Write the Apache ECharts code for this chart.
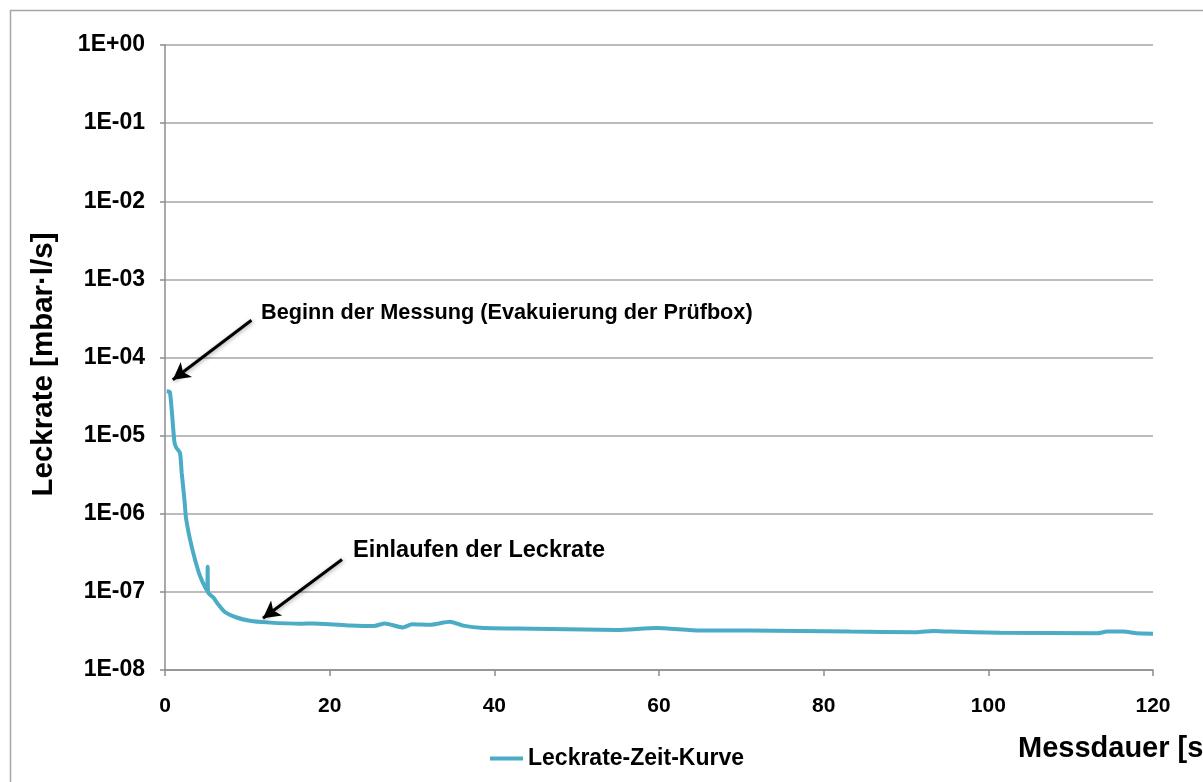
<!DOCTYPE html>
<html>
<head>
<meta charset="utf-8">
<title>Leckrate-Zeit-Kurve</title>
<script src="https://cdn.jsdelivr.net/npm/echarts@6/dist/echarts.min.js"></script>
<style>
  html, body { margin: 0; padding: 0; background: #fff; }
  #chart { width: 1203px; height: 782px; }
</style>
</head>
<body>
<div id="chart"></div>
<script>
// Messzeit in Sekunden
const times = [0.2, 0.6, 1.13, 1.34, 1.82, 2.02, 2.35, 2.55, 3.04, 3.64, 4.25, 4.86, 5.12, 5.18, 5.24,
  5.87, 6.47, 7.29, 8.7, 10.3, 12.35, 16.4, 18, 22.5, 25.3, 26.7, 28.9, 30, 32.2, 34.6, 36.2,
  38.7, 42.7, 46.8, 54.9, 59.7, 65, 71, 83.2, 91.3, 93.3, 95.3, 101.4, 113.2, 114.4, 116.4, 118, 120];
// Leckrate in mbar·l/s
const rates = [3.7e-5, 3.6e-5, 8.5e-6, 7.1e-6, 6.0e-6, 3.4e-6, 1.55e-6, 8.9e-7, 4.7e-7, 2.6e-7, 1.6e-7, 1.15e-7, 1.05e-7, 2.1e-7, 9.8e-8,
  8.5e-8, 6.9e-8, 5.5e-8, 4.7e-8, 4.27e-8, 4.07e-8, 3.9e-8, 3.95e-8, 3.72e-8, 3.65e-8, 3.95e-8, 3.5e-8, 3.85e-8, 3.8e-8, 4.15e-8, 3.7e-8,
  3.45e-8, 3.4e-8, 3.35e-8, 3.25e-8, 3.45e-8, 3.2e-8, 3.2e-8, 3.1e-8, 3.05e-8, 3.15e-8, 3.1e-8, 3.0e-8, 2.95e-8, 3.1e-8, 3.1e-8, 2.95e-8, 2.92e-8];

// Achsen
const xTicks = [0, 20, 40, 60, 80, 100, 120];
const yMin = 1e-8;
const yMax = 1;

// Hinweispfeile: [Start, Spitze] in Datenkoordinaten
const arrowStart = [[10.5, 3.0e-4], [21.5, 2.6e-7]];
const arrowTip = [[0.95, 5.2e-5], [11.9, 4.6e-8]];
const noteTexts = ['Beginn der Messung (Evakuierung der Prüfbox)', 'Einlaufen der Leckrate'];

const FONT = 'Arial, "Liberation Sans", sans-serif';

function expLabel(v) {
  const e = Math.round(Math.log10(v));
  const s = e < 0 ? '-' : '+';
  const a = Math.abs(e);
  return '1E' + s + (a < 10 ? '0' + a : '' + a);
}

const chart = echarts.init(document.getElementById('chart'), null, { renderer: 'canvas' });

const arrowLines = arrowStart.map((s, i) => [
  { coord: s, symbol: 'none' },
  { coord: arrowTip[i], symbol: 'arrow' }
]);

chart.setOption({
  animation: false,
  backgroundColor: '#fff',
  grid: { left: 165, right: 50, top: 45, bottom: 112, containLabel: false },
  xAxis: {
    type: 'value',
    min: xTicks[0],
    max: xTicks[xTicks.length - 1],
    interval: 20,
    axisLine: { show: true, lineStyle: { color: '#8c8c8c', width: 1.5 } },
    axisTick: { show: true, length: 6, lineStyle: { color: '#8c8c8c', width: 1.5 } },
    splitLine: { show: false },
    axisLabel: { margin: 26, color: '#000', fontFamily: FONT, fontWeight: 'bold', fontSize: 21 }
  },
  yAxis: {
    type: 'log',
    logBase: 10,
    min: yMin,
    max: yMax,
    splitNumber: 8,
    name: 'Leckrate [mbar·l/s]',
    nameLocation: 'middle',
    nameGap: 106,
    nameRotate: 90,
    nameTextStyle: { color: '#000', fontFamily: FONT, fontWeight: 'bold', fontSize: 29.5, padding: [0, 0, 0, -14] },
    axisLine: { show: true, lineStyle: { color: '#8c8c8c', width: 1.5 } },
    axisTick: { show: true, length: 5, lineStyle: { color: '#8c8c8c', width: 1.5 } },
    splitLine: { show: true, lineStyle: { color: '#a6a6a6', width: 1.5 } },
    axisLabel: { margin: 20, padding: [5, 0, 0, 0], color: '#000', fontFamily: FONT, fontWeight: 'bold', fontSize: 23, formatter: expLabel }
  },
  legend: {
    left: 490,
    top: 747,
    padding: 0,
    itemWidth: 33,
    itemHeight: 16,
    icon: 'path://M0,6 L33,6 L33,10 L0,10 Z',
    textStyle: { color: '#000', fontFamily: FONT, fontWeight: 'bold', fontSize: 23 },
    data: ['Leckrate-Zeit-Kurve']
  },
  series: [{
    name: 'Leckrate-Zeit-Kurve',
    type: 'line',
    data: times.map((t, i) => [t, rates[i]]),
    symbol: 'none',
    smooth: 0.2,
    lineStyle: { color: '#4bacc6', width: 4 },
    itemStyle: { color: '#4bacc6' },
    markLine: {
      silent: true,
      animation: false,
      symbolSize: [14, 17],
      label: { show: false },
      lineStyle: { color: '#000', width: 3, type: 'solid', shadowColor: 'rgba(0,0,0,0.35)', shadowBlur: 4, shadowOffsetX: 1, shadowOffsetY: 1 },
      emphasis: { disabled: true },
      data: arrowLines
    }
  }],
  graphic: [
    {
      type: 'rect', silent: true, z: -1,
      shape: { x: 10.5, y: 10.5, width: 1400, height: 1000 },
      style: { fill: 'none', stroke: '#a6a6a6', lineWidth: 1.5 }
    },
    {
      type: 'text', left: 261, top: 302,
      style: { text: noteTexts[0], fill: '#000', font: 'bold 21.7px ' + FONT }
    },
    {
      type: 'text', left: 353, top: 539,
      style: { text: noteTexts[1], fill: '#000', font: 'bold 23.5px ' + FONT }
    },
    {
      type: 'text', left: 1018, top: 734,
      style: { text: 'Messdauer [s]', fill: '#000', font: 'bold 29px ' + FONT }
    }
  ]
});
</script>
</body>
</html>
